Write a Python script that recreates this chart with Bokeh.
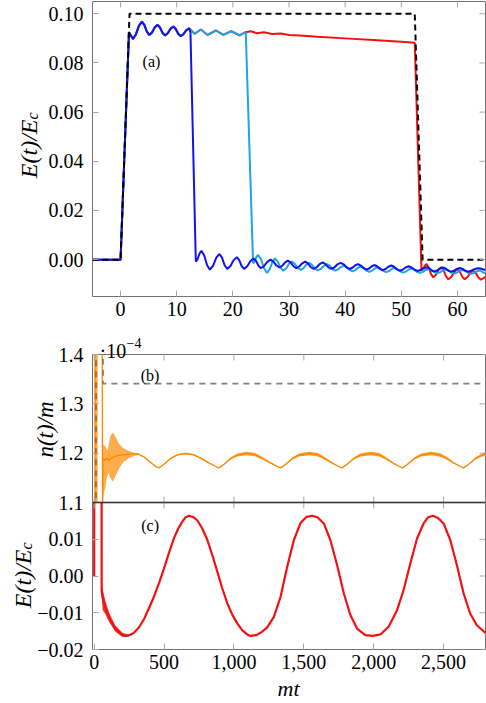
import math

from bokeh.embed import file_html
from bokeh.layouts import column
from bokeh.models import FixedTicker, Label, Range1d, Span
from bokeh.plotting import figure
from bokeh.resources import INLINE

SERIF = "Liberation Serif"
FRAME = "#737373"
TICK = "#a8a8a8"
BLUE = "#1212ee"
SKY = "#1fa6e0"
RED = "#f41010"
ORANGE = "#ff8a00"

# ---------------- panel (a): field for three pulse lengths ----------------
a_xticks = [0, 10, 20, 30, 40, 50, 60]
a_xlabels = ["0", "10", "20", "30", "40", "50", "60"]
a_yticks = [0.0, 0.02, 0.04, 0.06, 0.08, 0.10]
a_ylabels = ["0.00", "0.02", "0.04", "0.06", "0.08", "0.10"]

pulse_t = [-5, 0.0, 1.6, 52.4, 53.8, 65]
pulse_E = [0.0, 0.0, 0.100, 0.100, 0.0, 0.0]

# common rise and plateau ringing of all three runs
rise_t = [-5, 0.0, 1.5, 2.2, 2.73, 3.27, 3.8, 4.23, 4.67, 5.1, 5.6, 6.1, 6.6, 7.03, 7.47,
          7.9, 8.4, 8.9, 9.4, 9.83, 10.27, 10.7, 11.2, 11.7, 12.2]
rise_E = [0.0, 0.0, 0.0925, 0.0898, 0.0916, 0.0951, 0.0968, 0.0955, 0.0928, 0.0914, 0.0924,
          0.0945, 0.0955, 0.0944, 0.0923, 0.0912, 0.0921, 0.0939, 0.0948, 0.0938, 0.0919,
          0.0909, 0.0917, 0.0933, 0.0941]

# shortest pulse: switch-off near t = 12.5, then ringing around a drifting mean
short_t = rise_t + [
    12.45, 13.4, 13.73, 14.07, 14.4, 14.9, 15.4, 15.9, 16.47, 17.03, 17.6, 18.07, 18.53,
    19.0, 19.57, 20.13, 20.7, 21.13, 21.57, 22.0, 22.57, 23.13, 23.7, 24.13, 24.57, 25.0,
    25.57, 26.13, 26.7, 27.23, 27.77, 28.3, 28.8, 29.3, 29.8, 30.3, 30.8, 31.3, 31.83,
    32.37, 32.9, 33.4, 33.9, 34.4, 34.93, 35.47, 36.0, 36.5, 37.0, 37.5, 38.07, 38.63,
    39.2, 39.73, 40.27, 40.8, 41.3, 41.8, 42.3, 42.8, 43.3, 43.8, 44.27, 44.73, 45.2,
    45.7, 46.2, 46.7, 47.2, 47.7, 48.2, 48.7, 49.2, 49.7, 50.23, 50.77, 51.3, 51.83,
    52.37, 52.9, 53.43, 53.97, 54.5, 54.97, 55.43, 55.9, 56.4, 56.9, 57.4, 57.9, 58.4,
    58.9, 59.4, 59.9, 60.4, 60.9, 61.4, 61.9, 62.47, 63.03, 63.6, 64.07, 64.53, 65.0]
short_E = rise_E + [
    0.0925, -0.0008, 0.0003, 0.0025, 0.0036, 0.0017, -0.0022, -0.0041, -0.0025, 0.0007,
    0.0023, 0.0008, -0.0023, -0.0038, -0.0026, -0.0002, 0.0010, -0.0002, -0.0026,
    -0.0038, -0.0027, -0.0006, 0.0005, -0.0005, -0.0025, -0.0035, -0.0026, -0.0009,
    0.0000, -0.0008, -0.0024, -0.0032, -0.0025, -0.0011, -0.0004, -0.0012, -0.0027,
    -0.0035, -0.0028, -0.0015, -0.0008, -0.0016, -0.0031, -0.0038, -0.0031, -0.0018,
    -0.0011, -0.0018, -0.0031, -0.0038, -0.0032, -0.0019, -0.0013, -0.0019, -0.0032,
    -0.0038, -0.0033, -0.0023, -0.0018, -0.0024, -0.0035, -0.0041, -0.0036, -0.0027,
    -0.0022, -0.0027, -0.0038, -0.0043, -0.0038, -0.0029, -0.0024, -0.0029, -0.0040,
    -0.0045, -0.0041, -0.0032, -0.0027, -0.0032, -0.0041, -0.0046, -0.0042, -0.0035,
    -0.0031, -0.0035, -0.0044, -0.0048, -0.0044, -0.0036, -0.0032, -0.0036, -0.0045,
    -0.0049, -0.0045, -0.0038, -0.0034, -0.0038, -0.0045, -0.0049, -0.0045, -0.0039,
    -0.0035, -0.0036, -0.0039, -0.0042]

# plateau of the two longer pulses after t = 12.2
plateau_t = [13.2, 14.3, 15.5, 17.0, 18.3, 19.7, 21.2, 22.3]
plateau_E = [0.0919, 0.0936, 0.0914, 0.0932, 0.0914, 0.0929, 0.0912, 0.0925]

# medium pulse: switch-off near t = 22.5
mid_t = rise_t + plateau_t + [
    23.6, 23.9, 24.2, 24.5, 25.03, 25.57, 26.1, 26.57, 27.03, 27.5, 28.0, 28.5, 29.0,
    29.5, 30.0, 30.5, 31.03, 31.57, 32.1, 32.6, 33.1, 33.6, 34.1, 34.6, 35.1, 35.67,
    36.23, 36.8, 37.27, 37.73, 38.2, 38.73, 39.27, 39.8, 40.3, 40.8, 41.3, 41.8, 42.3,
    42.8, 43.3, 43.8, 44.3, 44.8, 45.3, 45.8, 46.3, 46.8, 47.3, 47.8, 48.3, 48.8, 49.3,
    49.8, 50.3, 50.8, 51.3, 51.8, 52.3, 52.8, 53.3, 53.83, 54.37, 54.9, 55.4, 55.9, 56.4,
    56.9, 57.4, 57.9, 58.4, 58.9, 59.4, 59.9, 60.4, 60.9, 61.4, 61.9, 62.4, 62.9, 63.4,
    63.9, 64.27, 64.63, 65.0]
mid_E = rise_E + plateau_E + [
    -0.0015, -0.0007, 0.0011, 0.0019, 0.0001, -0.0036, -0.0054, -0.0039, -0.0010, 0.0005,
    -0.0008, -0.0033, -0.0045, -0.0036, -0.0017, -0.0008, -0.0017, -0.0034, -0.0042,
    -0.0035, -0.0020, -0.0013, -0.0021, -0.0036, -0.0044, -0.0038, -0.0025, -0.0018,
    -0.0025, -0.0038, -0.0045, -0.0040, -0.0030, -0.0025, -0.0031, -0.0042, -0.0048,
    -0.0043, -0.0033, -0.0028, -0.0034, -0.0045, -0.0050, -0.0045, -0.0036, -0.0031,
    -0.0036, -0.0046, -0.0051, -0.0047, -0.0038, -0.0033, -0.0038, -0.0048, -0.0053,
    -0.0049, -0.0040, -0.0036, -0.0041, -0.0050, -0.0054, -0.0050, -0.0042, -0.0038,
    -0.0043, -0.0052, -0.0056, -0.0052, -0.0044, -0.0040, -0.0044, -0.0053, -0.0057,
    -0.0053, -0.0046, -0.0042, -0.0046, -0.0054, -0.0058, -0.0055, -0.0048, -0.0044,
    -0.0047, -0.0053, -0.0056]

# longest pulse: slow decay of the plateau, switch-off near t = 53
long_t = rise_t + plateau_t + [
    23.2, 24.3, 25.5, 27.0, 28.5, 30.0, 32.0, 35.0, 40.0, 45.0, 50.0, 52.4,
    53.6, 53.9, 54.2, 54.5, 54.9, 55.3, 55.7, 56.17, 56.63, 57.1, 57.53, 57.97, 58.4,
    58.93, 59.47, 60.0, 60.43, 60.87, 61.3, 61.8, 62.3, 62.8, 63.27, 63.73, 64.2, 65.0]
long_E = rise_E + plateau_E + [
    0.0929, 0.0921, 0.0925, 0.0918, 0.0920, 0.0914, 0.0912, 0.0907, 0.0900, 0.0893,
    0.0886, 0.0882,
    -0.0045, -0.0036, -0.0025, -0.0018, -0.0032, -0.0059, -0.0072, -0.0062, -0.0041,
    -0.0031, -0.0043, -0.0068, -0.0080, -0.0070, -0.0049, -0.0038, -0.0049, -0.0070,
    -0.0080, -0.0071, -0.0054, -0.0045, -0.0054, -0.0073, -0.0082, -0.0070]

# ---------------- panels (b) and (c): long-time evolution ----------------
bc_xticks = [0, 500, 1000, 1500, 2000, 2500]
bc_xlabels = ["0", "500", "1,000", "1,500", "2,000", "2,500"]
b_yticks = [1.1, 1.2, 1.3, 1.4]
b_ylabels = ["1.1", "1.2", "1.3", "1.4"]
c_yticks = [-0.02, -0.01, 0.0, 0.01]
c_ylabels = ["\u22120.02", "\u22120.01", "0.00", "0.01"]

# n(t)/m in units of 1e-4
dens_t = [-12, 3.0, 6.0, 56, 60, 63, 75, 90, 105, 120, 140, 165, 190, 220, 260, 310,
          357, 405, 440, 464, 500, 548, 595, 655, 714, 762, 821, 869, 893, 929, 976,
          1024, 1090, 1150, 1200, 1260, 1310, 1334, 1370, 1418, 1466, 1540, 1600, 1645,
          1700, 1750, 1774, 1810, 1858, 1906, 1980, 2040, 2085, 2135, 2183, 2207, 2243,
          2291, 2339, 2410, 2470, 2520, 2570, 2620, 2643, 2680, 2728, 2776, 2800]
dens_n = [0.0, 0.0, 1.60, 1.60, 1.10, 1.19, 1.185, 1.19, 1.185, 1.19, 1.192, 1.195,
          1.196, 1.197, 1.198, 1.1990,
          1.1924, 1.1810, 1.1730, 1.1702, 1.1776, 1.1895, 1.1965, 1.1993, 1.1966, 1.1898,
          1.1803, 1.1730, 1.1702, 1.1776, 1.1892, 1.1962, 1.1995, 1.1970, 1.1900, 1.1805,
          1.1730, 1.1702, 1.1776, 1.1893, 1.1962, 1.1995, 1.1968, 1.1900, 1.1805, 1.1730,
          1.1702, 1.1776, 1.1893, 1.1962, 1.1995, 1.1966, 1.1898, 1.1805, 1.1730, 1.1702,
          1.1776, 1.1893, 1.1962, 1.1995, 1.1968, 1.1900, 1.1805, 1.1730, 1.1702, 1.1776,
          1.1893, 1.1962, 1.1990]
# half-thickness of the fast ripple riding on n(t)
dens_ripple = [0.0] * 16 + [
    0.0010, 0.0008, 0.0006, 0.0005, 0.0008, 0.0010, 0.0012, 0.0015, 0.0015, 0.0015,
    0.0010, 0.0008, 0.0006, 0.0010, 0.0020, 0.0030, 0.0035, 0.0035, 0.0025, 0.0015,
    0.0010, 0.0006, 0.0010, 0.0020, 0.0030, 0.0035, 0.0035, 0.0025, 0.0015, 0.0010,
    0.0006, 0.0010, 0.0020, 0.0030, 0.0035, 0.0035, 0.0025, 0.0015, 0.0010, 0.0006,
    0.0010, 0.0020, 0.0030, 0.0035, 0.0035, 0.0025, 0.0015, 0.0010, 0.0006, 0.0010,
    0.0020, 0.0030, 0.0035]
# envelope of the fast burst around the pulse
burst_t = [4.5, 5.0, 25, 26, 57, 60, 62, 70, 80, 90, 100, 115, 135, 155, 180, 210, 250, 290, 320]
burst_lo = [1.0, 1.0, 1.0, 1.6, 1.6, 1.10, 1.10, 1.12, 1.13, 1.15, 1.16, 1.15, 1.142, 1.155,
            1.17, 1.182, 1.19, 1.195, 1.198]
burst_hi = [1.0, 1.5, 1.5, 1.6, 1.6, 1.30, 1.22, 1.215, 1.215, 1.205, 1.21, 1.235, 1.242,
            1.232, 1.218, 1.21, 1.204, 1.201, 1.200]

ref_t = [-12, 10, 14, 61, 64, 2800]
ref_n = [0.0, 0.0, 1.6, 1.6, 1.341, 1.341]

field_t = [-12, 0.0, 1.6, 52.4, 53.6, 60, 80, 110, 150, 195, 226, 260, 286, 320, 357, 395,
           429, 465, 500, 535, 571, 600, 631, 655, 679, 710, 739, 775, 810, 845, 881, 915,
           952, 988, 1024, 1060, 1095, 1119, 1160, 1200, 1238, 1286, 1334, 1381, 1429, 1476,
           1520, 1560, 1600, 1643, 1690, 1738, 1786, 1833, 1881, 1940, 1996, 2048, 2107,
           2167, 2214, 2262, 2310, 2357, 2390, 2424, 2460, 2500, 2548, 2595, 2643, 2690,
           2738, 2800]
field_E = [0.0, 0.0, 0.093, 0.088, -0.004, -0.0058, -0.0086, -0.0115, -0.0142, -0.0159,
           -0.0163, -0.0160, -0.0154, -0.0140, -0.0117, -0.0085, -0.0055, -0.0018, 0.0021,
           0.0063, 0.0103, 0.0128, 0.0148, 0.0160, 0.0164, 0.0160, 0.0151, 0.0128, 0.0098,
           0.0057, 0.0012, -0.0032, -0.0074, -0.0105, -0.0129, -0.0148, -0.0159, -0.0163,
           -0.0161, -0.0152, -0.0140, -0.0111, -0.0056, 0.0025, 0.0098, 0.0144, 0.0161,
           0.0164, 0.0159, 0.0143, 0.0098, 0.0030, -0.0047, -0.0106, -0.0143, -0.0161,
           -0.0163, -0.0159, -0.0138, -0.0093, -0.0038, 0.0034, 0.0102, 0.0143, 0.0160,
           0.0164, 0.0158, 0.0143, 0.0098, 0.0030, -0.0047, -0.0102, -0.0134, -0.0155]
fburst_t = [53.6, 60, 80, 110, 150, 200, 250]
fburst_lo = [-0.0055, -0.0092, -0.0104, -0.0127, -0.0151, -0.0165, -0.0165]
fburst_hi = [-0.0015, -0.0035, -0.0068, -0.0103, -0.0134, -0.0154, -0.0161]

PAGE_W, PAGE_H = 486, 703


def base_figure(height, x_range, y_range, top, bottom, with_x_axis=True):
    p = figure(width=PAGE_W, height=height, x_range=x_range, y_range=y_range,
               output_backend="svg", toolbar_location=None,
               x_axis_location="below" if with_x_axis else None,
               min_border_left=92, min_border_right=1,
               min_border_top=top, min_border_bottom=bottom)
    p.xgrid.visible = False
    p.ygrid.visible = False
    p.outline_line_color = FRAME
    p.outline_line_width = 1
    p.background_fill_color = "white"
    p.border_fill_color = "white"
    return p


def style_axis(ax, ticks, labels, standoff=8):
    ax.ticker = FixedTicker(ticks=ticks, minor_ticks=[])
    ax.major_tick_in = 6
    ax.major_tick_out = 0
    ax.minor_tick_in = 0
    ax.minor_tick_out = 0
    ax.major_tick_line_color = TICK
    ax.major_tick_line_width = 1
    ax.axis_line_color = None
    ax.major_label_text_font = SERIF
    ax.major_label_text_font_size = "20px"
    ax.major_label_text_color = "black"
    ax.major_label_standoff = standoff
    ax.major_label_overrides = dict(zip(ticks, labels))


def edge_ticks(p, xs=None, ys=None, at_x=None, at_y=None):
    """Inward tick marks on a frame edge that carries no labels (half is clipped)."""
    if xs is not None:
        p.scatter(x=xs, y=[at_y] * len(xs), marker="dash", size=12, angle=math.pi / 2,
                  line_color=TICK, line_width=1)
    if ys is not None:
        p.scatter(x=[at_x] * len(ys), y=ys, marker="dash", size=12, angle=0.0,
                  line_color=TICK, line_width=1)


def panel_tag(p, x, y, text):
    p.add_layout(Label(x=x, y=y, text=text, text_font=SERIF, text_font_size="16px",
                       text_align="center", text_baseline="middle", text_color="black"))


# ---- (a) ----
fa = base_figure(330, Range1d(-5, 65), Range1d(-0.015, 0.105), top=1, bottom=34)
style_axis(fa.xaxis[0], a_xticks, a_xlabels, standoff=5)
style_axis(fa.yaxis[0], a_yticks, a_ylabels, standoff=9)
fa.line(long_t, long_E, line_color=RED, line_width=2)
fa.line(mid_t, mid_E, line_color=SKY, line_width=2)
fa.line(short_t, short_E, line_color=BLUE, line_width=2)
fa.line(pulse_t, pulse_E, line_color="black", line_width=2, line_dash="6 4")
edge_ticks(fa, xs=a_xticks, at_y=fa.y_range.end)
edge_ticks(fa, ys=a_yticks, at_x=fa.x_range.end)
panel_tag(fa, 5.5, 0.0806, "(a)")

# ---- (b) ----
x_bc = Range1d(-12, 2800)
fb = base_figure(184, x_bc, Range1d(1.1, 1.4), top=24, bottom=12, with_x_axis=False)
style_axis(fb.yaxis[0], b_yticks, b_ylabels, standoff=9)
fb.varea(x=burst_t, y1=burst_lo, y2=burst_hi, fill_color=ORANGE, fill_alpha=0.7)
fb.varea(x=dens_t, y1=[n - r for n, r in zip(dens_n, dens_ripple)],
         y2=[n + r for n, r in zip(dens_n, dens_ripple)], fill_color=ORANGE, fill_alpha=0.85)
fb.line(dens_t, dens_n, line_color=ORANGE, line_width=1.3)
fb.line(ref_t, ref_n, line_color="#4d4d4d", line_alpha=0.7, line_width=1.6, line_dash="6 5")
edge_ticks(fb, xs=bc_xticks, at_y=fb.y_range.end)
edge_ticks(fb, xs=bc_xticks, at_y=fb.y_range.start)
edge_ticks(fb, ys=b_yticks, at_x=x_bc.end)
fb.add_layout(Span(location=fb.y_range.start, dimension="width", line_color="black",
                   line_width=1.6))
panel_tag(fb, 400, 1.357, "(b)")

# ---- (c) ----
fc = base_figure(201, x_bc, Range1d(-0.02, 0.02), top=0, bottom=54)
fc.background_fill_color = None
fc.border_fill_color = None
fc.margin = (-12, 0, 0, 0)
style_axis(fc.xaxis[0], bc_xticks, bc_xlabels, standoff=5)
style_axis(fc.yaxis[0], c_yticks, c_ylabels, standoff=9)
fc.varea(x=fburst_t, y1=fburst_lo, y2=fburst_hi, fill_color=RED, fill_alpha=0.85)
fc.line(field_t, field_E, line_color=RED, line_width=2.2)
edge_ticks(fc, xs=bc_xticks, at_y=fc.y_range.end)
edge_ticks(fc, ys=c_yticks, at_x=x_bc.end)
fc.add_layout(Span(location=fc.y_range.end, dimension="width", line_color="black",
                   line_width=1.6))
panel_tag(fc, 400, 0.0137, "(c)")

stack = column(fa, fb, fc, spacing=0)

# ---- transparent sheet laid over the stack, carrying the axis titles ----
sheet = figure(width=PAGE_W, height=PAGE_H, x_range=Range1d(0, PAGE_W),
               y_range=Range1d(PAGE_H, 0), output_backend="svg", toolbar_location=None,
               x_axis_location=None, y_axis_location=None, min_border=0)
sheet.grid.visible = False
sheet.outline_line_color = None
sheet.background_fill_color = None
sheet.border_fill_color = None
sheet.margin = (-PAGE_H, 0, 0, 0)


def sheet_text(x, y, text, size, italic=False, align="center", baseline="middle", angle=0.0):
    sheet.add_layout(Label(x=x, y=y, text=text, text_font=SERIF, text_font_size=f"{size}px",
                           text_font_style="italic" if italic else "normal",
                           text_align=align, text_baseline=baseline, angle=angle,
                           text_color="black"))


UP = math.pi / 2
sheet_text(28, 119, "E(t)/E", 24, italic=True, align="right", baseline="alphabetic", angle=UP)
sheet_text(32, 119, "c", 16, italic=True, align="left", baseline="alphabetic", angle=UP)
sheet_text(45, 429, "n(t)/m", 23, italic=True, angle=UP)
sheet_text(99, 350, "\u00b710", 20, align="left", baseline="alphabetic")
sheet_text(126, 342, "\u22124", 14, align="left", baseline="alphabetic")
sheet_text(22, 549, "E(t)/E", 24, italic=True, align="right", baseline="alphabetic", angle=UP)
sheet_text(26, 549, "c", 16, italic=True, align="left", baseline="alphabetic", angle=UP)
sheet_text(288, 688, "mt", 22, italic=True)

open("out.html", "w").write(file_html([stack, sheet], INLINE))
